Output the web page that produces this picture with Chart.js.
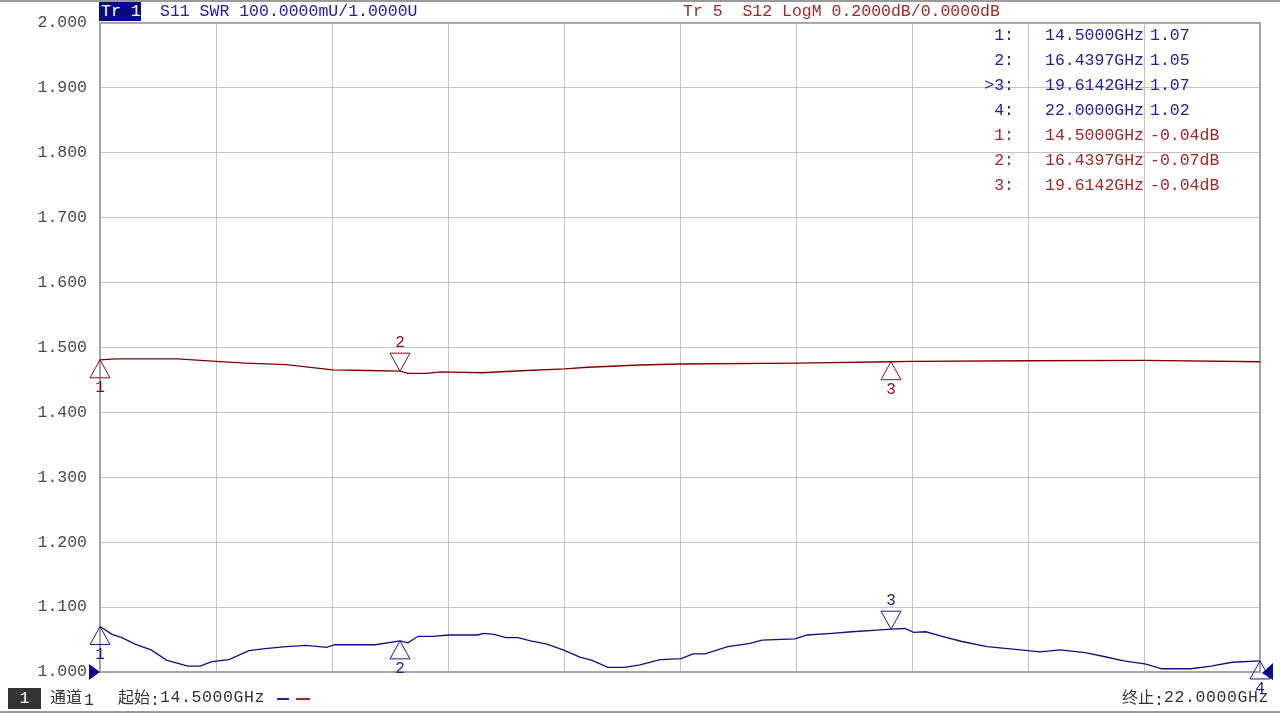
<!DOCTYPE html>
<html><head><meta charset="utf-8">
<script src="https://cdn.jsdelivr.net/npm/chart.js@4"></script>
<style>
html,body{margin:0;padding:0;background:#fff;}
#wrap{position:relative;width:1280px;height:713px;overflow:hidden;background:#fff;font-family:"Liberation Mono","Noto Sans CJK SC",monospace;}
canvas{position:absolute;left:0;top:0;}
.t{position:absolute;white-space:pre;line-height:20px;font-size:16.5px;}
.b{color:#22229a;}
.r{color:#a02828;}
.s{position:absolute;white-space:pre;line-height:20px;font-size:16.5px;color:#333;top:688px;}
.cj{font-family:"Noto Sans CJK SC",sans-serif;font-size:16px;position:relative;top:-2px;}
.ls{letter-spacing:0.6px;}
</style></head>
<body><div id="wrap">
<canvas id="c" width="1280" height="713"></canvas>
<div style="position:absolute;left:0;top:0;width:1280px;height:2px;background:#9a9a9a"></div>
<div style="position:absolute;left:0;top:711px;width:1280px;height:2px;background:#9a9a9a"></div>
<div class="t" style="left:99px;top:2px;width:42px;height:19px;background:#0a0a80;color:#fff;line-height:19px;padding-left:2px;box-sizing:border-box">Tr 1</div>
<div class="t b" style="left:160px;top:2px">S11 SWR 100.0000mU/1.0000U</div>
<div class="t r" style="left:683px;top:2px">Tr 5  S12 LogM 0.2000dB/0.0000dB</div>
<div id="mt"></div>
<div class="s" style="left:8px;width:33px;height:21px;background:#333;color:#fff;text-align:center;line-height:21px">1</div>
<div class="s" style="left:50px"><span class="cj">通道</span><span style="padding-left:2px">1</span></div>
<div class="s" style="left:118px"><span class="cj">起始</span>:</div>
<div class="s ls" style="left:160px">14.5000GHz</div>
<div style="position:absolute;left:277px;top:698px;width:12px;height:1.5px;background:#22229a"></div>
<div style="position:absolute;left:296px;top:698px;width:14px;height:1.5px;background:#a02828"></div>
<div class="s" style="left:1122px"><span class="cj">终止</span>:</div>
<div class="s ls" style="left:1164px">22.0000GHz</div>
</div>
<script>
// S11 SWR trace (Tr 1)
const freqS11 = [14.5,14.578,14.642,14.726,14.83,14.933,15.069,15.147,15.224,15.334,15.463,15.567,15.703,15.832,15.964,16.019,16.149,16.281,16.4397,16.491,16.556,16.651,16.757,16.941,16.981,17.047,17.125,17.203,17.284,17.39,17.494,17.603,17.681,17.784,17.891,17.991,18.121,18.257,18.334,18.412,18.493,18.56,18.703,18.78,18.994,19.071,19.233,19.362,19.524,19.6142,19.705,19.76,19.839,19.944,20.073,20.235,20.419,20.578,20.707,20.869,20.998,21.119,21.263,21.366,21.554,21.683,21.819,22.0];
const swrS11 = [1.070,1.058,1.053,1.043,1.034,1.018,1.009,1.009,1.016,1.019,1.033,1.036,1.039,1.041,1.038,1.042,1.042,1.042,1.048,1.045,1.055,1.055,1.057,1.057,1.0595,1.058,1.053,1.053,1.048,1.043,1.034,1.023,1.018,1.007,1.007,1.011,1.019,1.0205,1.028,1.028,1.034,1.039,1.044,1.049,1.051,1.057,1.0595,1.062,1.0646,1.066,1.067,1.061,1.062,1.055,1.047,1.039,1.035,1.031,1.034,1.030,1.0235,1.017,1.012,1.005,1.005,1.009,1.015,1.017];
// S12 LogM trace (Tr 5), dB
const freqS12 = [14.5,14.603,15.001,15.25,15.437,15.703,16.004,16.226,16.4397,16.491,16.611,16.705,16.967,17.258,17.506,17.655,17.991,18.25,19.005,19.6142,19.75,20.504,21.253,22.0];
const dbS12 = [-0.038,-0.035,-0.035,-0.043,-0.048,-0.053,-0.069,-0.071,-0.073,-0.080,-0.080,-0.075,-0.078,-0.071,-0.066,-0.061,-0.054,-0.051,-0.048,-0.044,-0.043,-0.041,-0.040,-0.044];
// markers
const s11MarkerFreqs = [14.5,16.4397,19.6142,22.0];
const s11MarkerVals = [1.070,1.048,1.066,1.017];
const s11MarkerDirs = ['up','up','down','up'];
const s12MarkerFreqs = [14.5,16.4397,19.6142];
const s12MarkerVals = [-0.038,-0.073,-0.044];
const s12MarkerDirs = ['up','down','up'];
const markerTableRows = [
  ['1:','14.5000GHz','1.07','b'],
  ['2:','16.4397GHz','1.05','b'],
  ['>3:','19.6142GHz','1.07','b'],
  ['4:','22.0000GHz','1.02','b'],
  ['1:','14.5000GHz','-0.04dB','r'],
  ['2:','16.4397GHz','-0.07dB','r'],
  ['3:','19.6142GHz','-0.04dB','r']
];
// y-axis (SWR) range and dB range
const swrMin = 1.0, swrMax = 2.0, swrStep = 0.1;
const dbMin = -1.0, dbMax = 1.0;
const fStart = 14.5, fStop = 22.0, fStep = 0.75;

const BLUE = '#10107f', RED = '#800000';

// marker table
const mt = document.getElementById('mt');
markerTableRows.forEach((r,i)=>{
  const top = 26 + i*25;
  mt.insertAdjacentHTML('beforeend',
   `<div class="t ${r[3]}" style="right:${1280-1014}px;top:${top}px">${r[0].replace('>','&gt;')}</div>`+
   `<div class="t ${r[3]}" style="left:1045px;top:${top}px">${r[1]}</div>`+
   `<div class="t ${r[3]}" style="left:1150px;top:${top}px">${r[2]}</div>`);
});

const plugin = {
  id:'vna',
  beforeDatasetsDraw(chart){
    const {ctx, chartArea:a} = chart;
    ctx.save();
    ctx.strokeStyle='#a4a4a4'; ctx.lineWidth=2;
    ctx.strokeRect(a.left, a.top, a.right-a.left, a.bottom-a.top);
    ctx.restore();
  },
  afterDatasetsDraw(chart){
    const {ctx, chartArea:a, scales} = chart;
    const x = scales.x, y = scales.y, y2 = scales.y2;
    function tri(px, py, dir, col, label){
      const h = 18, w = 10;
      ctx.beginPath();
      if(dir==='up'){ ctx.moveTo(px,py); ctx.lineTo(px-w,py+h); ctx.lineTo(px+w,py+h); }
      else { ctx.moveTo(px,py); ctx.lineTo(px-w,py-h); ctx.lineTo(px+w,py-h); }
      ctx.closePath();
      ctx.strokeStyle=col; ctx.lineWidth=1; ctx.stroke();
      ctx.fillStyle=col; ctx.font='16px "Liberation Mono"';
      ctx.textAlign='center'; ctx.textBaseline='middle';
      ctx.fillText(label, px, dir==='up' ? py+28 : py-28);
    }
    ctx.save();
    s12MarkerFreqs.forEach((f,i)=>tri(x.getPixelForValue(f), y2.getPixelForValue(s12MarkerVals[i]), s12MarkerDirs[i], '#8b1010', String(i+1)));
    s11MarkerFreqs.forEach((f,i)=>tri(x.getPixelForValue(f), y.getPixelForValue(s11MarkerVals[i]), s11MarkerDirs[i], '#1a1a8c', String(i+1)));
    // reference level arrows
    const ry = y.getPixelForValue(swrMin);
    ctx.fillStyle='#0a0a90';
    ctx.beginPath(); ctx.moveTo(a.left, ry); ctx.lineTo(a.left-11, ry-8); ctx.lineTo(a.left-11, ry+8); ctx.closePath(); ctx.fill();
    ctx.beginPath(); ctx.moveTo(a.right+2, ry+1); ctx.lineTo(a.right+13, ry-9); ctx.lineTo(a.right+13, ry+8); ctx.closePath(); ctx.fill();
    ctx.restore();
  }
};

new Chart(document.getElementById('c'), {
  type:'line',
  data:{
    datasets:[
      {label:'S12', data:freqS12.map((f,i)=>({x:f,y:dbS12[i]})), yAxisID:'y2', borderColor:RED, borderWidth:1.3, pointRadius:0, tension:0, fill:false},
      {label:'S11', data:freqS11.map((f,i)=>({x:f,y:swrS11[i]})), yAxisID:'y', borderColor:BLUE, borderWidth:1.3, pointRadius:0, tension:0, fill:false}
    ]
  },
  options:{
    responsive:false, animation:false,
    layout:{padding:{left:0, top:22, right:20, bottom:41}},
    plugins:{legend:{display:false}, tooltip:{enabled:false}},
    scales:{
      x:{type:'linear', min:fStart, max:fStop,
         ticks:{display:false, stepSize:fStep},
         grid:{color:'#c2c2c2', lineWidth:1, drawTicks:false},
         border:{display:false},
         afterFit(s){ s.height = 0; }},
      y:{type:'linear', position:'left', min:swrMin, max:swrMax,
         ticks:{stepSize:swrStep, padding:13, color:'#4a4a4a', font:{family:'Liberation Mono', size:16.5}, callback:v=>Number(v).toFixed(3)},
         grid:{color:'#c2c2c2', lineWidth:1, drawTicks:false},
         border:{display:false},
         afterFit(s){ s.width = 100; }},
      y2:{type:'linear', display:false, min:dbMin, max:dbMax}
    }
  },
  plugins:[plugin]
});
</script>
</body></html>
